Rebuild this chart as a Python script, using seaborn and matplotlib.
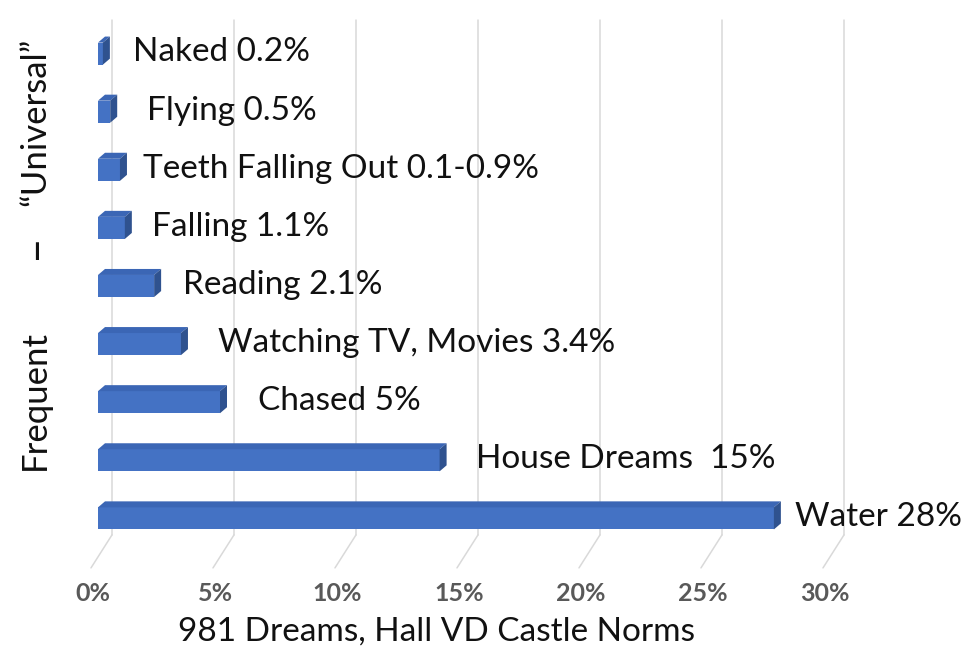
import matplotlib
matplotlib.use("Agg")
import matplotlib.pyplot as plt
from matplotlib.patches import Polygon
import seaborn as sns
import pandas as pd

# ---- data ----
categories = ["Naked", "Flying", "Teeth Falling Out", "Falling", "Reading",
              "Watching TV, Movies", "Chased", "House Dreams", "Water"]
values = [0.2, 0.5, 0.9, 1.1, 2.3, 3.4, 5.0, 14.0, 27.7]
value_labels = ["Naked 0.2%", "Flying 0.5%", "Teeth Falling Out 0.1-0.9%", "Falling 1.1%",
                "Reading 2.1%", "Watching TV, Movies 3.4%", "Chased 5%",
                "House Dreams  15%", "Water 28%"]
x_ticks = [0, 5, 10, 15, 20, 25, 30]
x_tick_labels = ["0%", "5%", "10%", "15%", "20%", "25%", "30%"]
x_title = "981 Dreams, Hall VD Castle Norms"
y_title_parts = ["Frequent", "\u2013", "\u201cUniversal\u201d"]

sns.set_theme(style="white")
plt.rcParams["font.family"] = ["Lato", "DejaVu Sans"]

W, H = 962, 649
fig = plt.figure(figsize=(W / 100, H / 100), dpi=100)

# pixel geometry
px_per_unit = 24.4
x0_px = 98
xmin, xmax = -1.5, 35.0
ax_left_px = x0_px + xmin * px_per_unit
ax_w_px = (xmax - xmin) * px_per_unit
row_px = 58.1
y0_px = 53.6  # center of first row
ytop, ybot = -0.75, 8.886
ax_top_px = y0_px + ytop * row_px
ax_h_px = (ybot - ytop) * row_px
ax = fig.add_axes([ax_left_px / W, 1 - (ax_top_px + ax_h_px) / H, ax_w_px / W, ax_h_px / H])

df = pd.DataFrame({"cat": categories, "val": values})
front = "#4472C4"
top_c = "#3B66B5"
side_c = "#2F528F"

# gridlines (3D back wall + floor diagonals)
gdx = 14 / px_per_unit
g_top = ytop + 10 / row_px
g_bot = 8 + 16.5 / row_px
f_dx = -21 / px_per_unit
f_bot = 8 + 49.5 / row_px
for t in x_ticks:
    ax.plot([t + gdx, t + gdx], [g_top, g_bot], color="#D9D9D9", lw=1.1, zorder=0)
    ax.plot([t + gdx, t + gdx + f_dx], [g_bot, f_bot], color="#D9D9D9", lw=1.1, zorder=0)

sns.barplot(data=df, x="val", y="cat", orient="h", color=front, width=0.38,
            saturation=1, ax=ax, zorder=2)

dx = 7 / px_per_unit
dy = 6 / row_px
for p in ax.patches[:len(values)]:
    v = p.get_width()
    yt = p.get_y()
    h = p.get_height()
    ytop_e = min(yt, yt + h)
    ybot_e = max(yt, yt + h)
    top = Polygon([(0, ytop_e), (v, ytop_e), (v + dx, ytop_e - dy), (dx, ytop_e - dy)],
                  closed=True, facecolor=top_c, edgecolor="none", zorder=3)
    side = Polygon([(v, ytop_e), (v + dx, ytop_e - dy), (v + dx, ybot_e - dy), (v, ybot_e)],
                   closed=True, facecolor=side_c, edgecolor="none", zorder=3)
    ax.add_patch(top)
    ax.add_patch(side)
    p.set_edgecolor("none")

# label gap after each bar (style, in axis units)
label_pad = [1.25, 1.5, 0.95, 1.1, 1.2, 1.5, 1.55, 1.5, 0.85]
for i, (v, lab, pad) in enumerate(zip(values, value_labels, label_pad)):
    ax.text(v + pad, i - 0.02, lab, ha="left", va="center", fontsize=24, color="#111111")

ax.set_xlim(xmin, xmax)
ax.set_ylim(ybot, ytop)
ax.set_xticks([])
ax.set_yticks([])
ax.set_xlabel("")
ax.set_ylabel("")
for s in ax.spines.values():
    s.set_visible(False)

# x tick labels and title
for t, lab in zip(x_ticks, x_tick_labels):
    ax.text(t - 0.2, 8 + 75 / row_px, lab, ha="center", va="center", fontsize=18,
            fontweight="bold", color="#595959")
fig.text(437 / W, 1 - 632 / H, x_title, ha="center", va="center", fontsize=24, color="#111111")

# y title pieces
fig.text(35 / W, 1 - 400 / H, y_title_parts[0], rotation=90, ha="center", va="center",
         fontsize=25, color="#111111")
fig.text(35 / W, 1 - 246 / H, y_title_parts[1], rotation=90, ha="center", va="center",
         fontsize=32, color="#111111")
fig.text(35 / W, 1 - 122 / H, y_title_parts[2], rotation=90, ha="center", va="center",
         fontsize=25, color="#111111")

fig.savefig("out.png", dpi=100, facecolor="white")
